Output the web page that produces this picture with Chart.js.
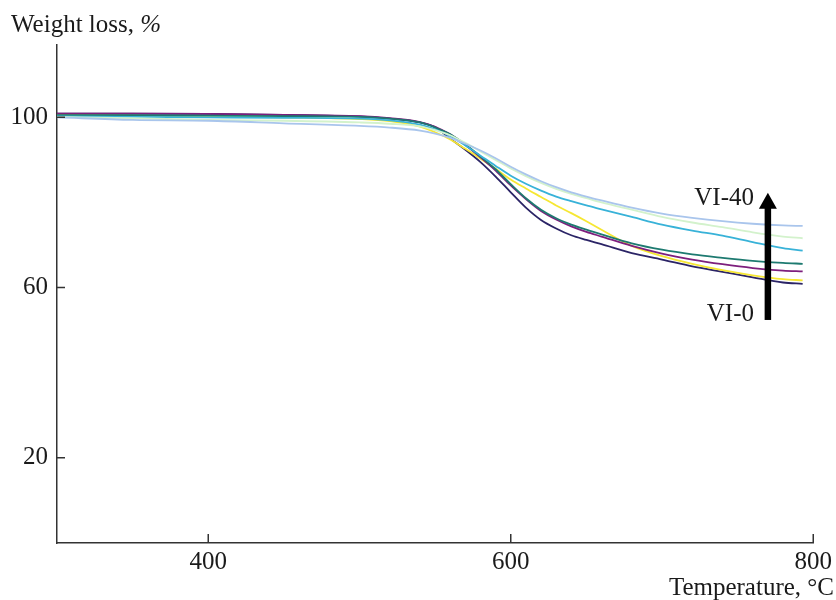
<!DOCTYPE html>
<html>
<head>
<meta charset="utf-8">
<script src="https://cdn.jsdelivr.net/npm/chart.js@4.4.1/dist/chart.umd.min.js"></script>
<style>
  html, body { margin: 0; padding: 0; background: #fff; }
  #wrap { width: 836px; height: 600px; }
</style>
</head>
<body>
<div id="wrap"><canvas id="grafico" width="836" height="600"></canvas></div>
<script>
// temperatura (°C) comum a todas as curvas
const temps = [300, 350, 400, 450, 500, 520, 540, 550, 560, 570, 580, 590, 600,
               610, 620, 630, 640, 650, 660, 680, 700, 720, 740, 760, 780, 793];

// perda de massa (%) - de VI-0 (baixo) até VI-40 (cima)
const curvaAzulEscuro = [100.9, 100.9, 100.8, 100.6, 100.2, 99.7, 98.8, 97.7, 95.0, 92.4, 89.5, 86.1, 82.4,
                         78.8, 75.9, 73.9, 72.3, 71.2, 70.2, 68.1, 66.6, 65.0, 63.7, 62.4, 61.2, 60.9];
const curvaAmarela    = [100.6, 100.4, 100.2, 100.0, 99.6, 99.1, 97.8, 96.5, 94.8, 92.6, 90.3, 87.9, 85.4,
                         83.3, 81.3, 79.3, 77.5, 75.6, 73.6, 69.8, 67.4, 65.6, 64.1, 62.9, 62.0, 61.7];
const curvaRoxa       = [100.9, 100.9, 100.8, 100.6, 100.3, 99.8, 98.9, 97.8, 96.0, 93.5, 90.6, 87.5, 84.0,
                         80.8, 78.0, 76.0, 74.4, 73.1, 72.0, 69.8, 68.0, 66.6, 65.5, 64.6, 64.0, 63.8];
const curvaVerdeAgua  = [100.5, 100.5, 100.4, 100.3, 100.1, 99.7, 98.8, 97.6, 96.0, 93.6, 90.8, 87.8, 84.3,
                         81.0, 78.3, 76.3, 74.8, 73.6, 72.5, 70.4, 68.9, 67.8, 67.0, 66.3, 65.8, 65.6];
const curvaCiano      = [100.2, 100.1, 100.0, 99.9, 99.7, 99.3, 98.3, 97.2, 95.6, 93.4, 91.0, 88.6, 86.3,
                         84.4, 82.8, 81.4, 80.3, 79.3, 78.4, 76.6, 74.8, 73.4, 72.2, 70.7, 69.3, 68.7];
const curvaVerdeClaro = [100.1, 99.8, 99.4, 99.2, 98.8, 98.5, 97.9, 97.0, 95.8, 94.0, 92.0, 90.0, 88.0,
                         86.2, 84.6, 83.2, 82.0, 81.0, 80.0, 78.3, 76.6, 75.3, 74.2, 73.0, 72.0, 71.6];
const curvaAzulClaro  = [100.0, 99.4, 99.2, 98.6, 98.0, 97.6, 96.9, 96.2, 95.2, 93.8, 92.2, 90.4, 88.4,
                         86.6, 85.0, 83.6, 82.4, 81.4, 80.5, 78.8, 77.4, 76.4, 75.6, 75.0, 74.6, 74.5];

// ticks dos eixos
const ticksX = [400, 600, 800];
const ticksY = [20, 60, 100];

// seta VI-0 -> VI-40
const setaX = 770;
const setaDe = 52.4;
const setaAte = 82.3;

const fonte = '"Liberation Serif", "Times New Roman", serif';

const series = [
    { nome: 'VI-40', dados: curvaAzulClaro,  cor: '#a9c5ec' },
    { nome: 'b',     dados: curvaVerdeClaro, cor: '#d3f2cc' },
    { nome: 'c',     dados: curvaCiano,      cor: '#38b2d8' },
    { nome: 'd',     dados: curvaVerdeAgua,  cor: '#1d7a70' },
    { nome: 'e',     dados: curvaRoxa,       cor: '#7d1f7d' },
    { nome: 'f',     dados: curvaAmarela,    cor: '#f6e733' },
    { nome: 'VI-0',  dados: curvaAzulEscuro, cor: '#2b2466' }
];

// tracinhos para dentro, textos e seta
const extras = {
    id: 'extras',
    afterDraw(chart) {
        const ctx = chart.ctx;
        const x = chart.scales.x;
        const y = chart.scales.y;
        const area = chart.chartArea;
        ctx.save();
        ctx.strokeStyle = '#333';
        ctx.lineWidth = 1.5;
        ctx.beginPath();
        ticksX.forEach(v => {
            const px = x.getPixelForValue(v);
            ctx.moveTo(px, area.bottom);
            ctx.lineTo(px, area.bottom - 9);
        });
        ticksY.forEach(v => {
            const py = y.getPixelForValue(v);
            ctx.moveTo(area.left, py);
            ctx.lineTo(area.left + 8, py);
        });
        ctx.stroke();

        ctx.fillStyle = '#1a1a1a';
        ctx.font = '25px ' + fonte;
        ctx.textBaseline = 'alphabetic';
        ctx.textAlign = 'left';
        const t1 = 'Weight loss, ';
        ctx.fillText(t1, 11, 32);
        const w1 = ctx.measureText(t1).width;
        ctx.font = 'italic 25px ' + fonte;
        ctx.fillText('%', 11 + w1, 32);

        ctx.font = '25px ' + fonte;
        ctx.textAlign = 'right';
        ctx.fillText('Temperature, °C', 834, 595);
        ctx.fillText('VI-40', 754, 205);
        ctx.fillText('VI-0', 754, 321);

        // seta
        const sx = x.getPixelForValue(setaX);
        const yBase = y.getPixelForValue(setaDe);
        const yPonta = y.getPixelForValue(setaAte);
        ctx.strokeStyle = '#000';
        ctx.lineWidth = 6.5;
        ctx.beginPath();
        ctx.moveTo(sx, yBase);
        ctx.lineTo(sx, yPonta + 12);
        ctx.stroke();
        ctx.fillStyle = '#000';
        ctx.beginPath();
        ctx.moveTo(sx, yPonta);
        ctx.lineTo(sx - 9, yPonta + 16);
        ctx.lineTo(sx + 9, yPonta + 16);
        ctx.closePath();
        ctx.fill();
        ctx.restore();
    }
};

new Chart(document.getElementById('grafico'), {
    type: 'line',
    data: {
        datasets: series.map(s => ({
            label: s.nome,
            data: temps.map((t, i) => ({ x: t, y: s.dados[i] })),
            borderColor: s.cor,
            backgroundColor: s.cor,
            borderWidth: 1.8,
            pointRadius: 0,
            cubicInterpolationMode: 'monotone',
            fill: false
        }))
    },
    options: {
        responsive: false,
        animation: false,
        layout: { padding: { left: 0, right: 21, top: 45, bottom: 0 } },
        plugins: { legend: { display: false }, tooltip: { enabled: false } },
        scales: {
            x: {
                type: 'linear', min: 300, max: 800,
                afterBuildTicks: s => { s.ticks = ticksX.map(v => ({ value: v })); },
                afterFit: s => { s.height = 57; },
                grid: { display: true, color: 'rgba(0,0,0,0)', drawTicks: false },
                border: { display: true, color: '#333', width: 1.5 },
                ticks: { color: '#1a1a1a', font: { family: fonte, size: 25 }, padding: 4, maxRotation: 0, autoSkip: false }
            },
            y: {
                type: 'linear', min: 0, max: 117,
                afterBuildTicks: s => { s.ticks = ticksY.map(v => ({ value: v })); },
                afterFit: s => { s.width = 57; },
                grid: { display: true, color: 'rgba(0,0,0,0)', drawTicks: false },
                border: { display: true, color: '#333', width: 1.5 },
                ticks: { color: '#1a1a1a', font: { family: fonte, size: 25 }, padding: 9, autoSkip: false }
            }
        }
    },
    plugins: [extras]
});
</script>
</body>
</html>
